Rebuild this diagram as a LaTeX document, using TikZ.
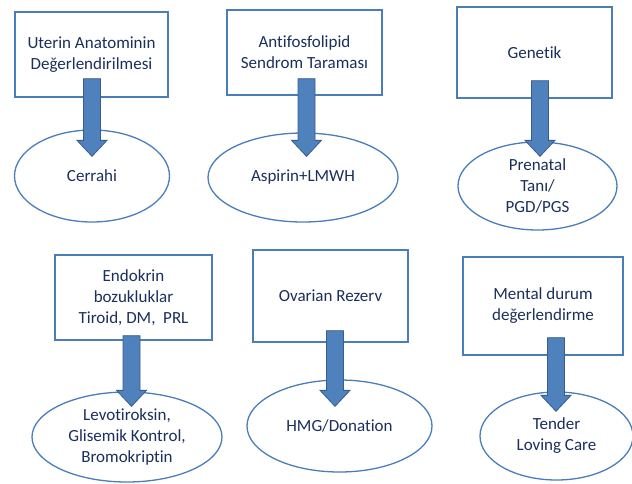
\documentclass[tikz,border=0pt]{standalone}
\usepackage{fontspec}
\setmainfont[Ligatures=NoCommon]{Carlito}
\usetikzlibrary{shapes.geometric,calc}

\definecolor{boxline}{HTML}{4A7EBB}
\definecolor{arrowfill}{HTML}{4F81BD}
\definecolor{arrowline}{HTML}{385D8A}
\definecolor{textblue}{HTML}{1B2F5C}

\tikzset{
    taskbox/.style={draw=boxline, line width=1.3pt, fill=white, align=center,
        text=textblue, inner sep=2pt, font=\fontsize{17}{21}\selectfont},
    remedy/.style={ellipse, draw=boxline, line width=1.3pt, fill=white, align=center,
        text=textblue, inner sep=0pt, font=\fontsize{17}{21}\selectfont},
    blockarrow/.style={draw=arrowline, fill=arrowfill, line width=0.8pt, line join=miter}
}

\newcommand\downblock[2]{%
    \draw[blockarrow] let \p1=(#1), \p2=(#2) in
        (\x2-8.5pt,\y1) -- (\x2+8.5pt,\y1) -- (\x2+8.5pt,\y2+16pt) -- (\x2+15pt,\y2+16pt)
        -- (\x2,\y2) -- (\x2-15pt,\y2+16pt) -- (\x2-8.5pt,\y2+16pt) -- cycle;}

\begin{document}
\begin{tikzpicture}[x=1pt, y=-1pt]
    \useasboundingbox (0,0) rectangle (632,483);

    % upper row
    \node[taskbox, minimum width=153pt, minimum height=85pt] (b1) at (91.5,54.5)
        {Uterin Anatominin\\Değerlendirilmesi};
    \node[taskbox, minimum width=155pt, minimum height=85pt] (b2) at (304.5,52.5)
        {Antifosfolipid\\Sendrom Taraması};
    \node[taskbox, minimum width=155pt, minimum height=91pt] (b3) at (534.5,52.5)
        {Genetik};
    \node[remedy, minimum width=155pt, minimum height=92pt] (e1) at (92,176) {Cerrahi};
    \node[remedy, minimum width=190pt, minimum height=89pt] (e2) at (303,177.5) {Aspirin+LMWH};
    \node[remedy, minimum width=159pt, minimum height=88pt] (e3) at (537.5,186)
        {Prenatal\\Tanı/\\PGD/PGS};

    % lower row
    \node[taskbox, minimum width=157pt, minimum height=85pt] (b4) at (133.5,297.5)
        {Endokrin\\bozukluklar\\Tiroid, DM,\ \ PRL};
    \node[taskbox, minimum width=155pt, minimum height=92pt] (b5) at (330.5,296)
        {Ovarian Rezerv};
    \node[taskbox, minimum width=160pt, minimum height=98pt] (b6) at (543,306)
        {Mental durum\\değerlendirme};
    \node[remedy, minimum width=190pt, minimum height=90pt] (e4) at (127,437)
        {Levotiroksin,\\Glisemik Kontrol,\\Bromokriptin};
    \node[remedy, minimum width=185pt, minimum height=92pt] (e5) at (339.5,426) {HMG/Donation};
    \node[remedy, minimum width=153pt, minimum height=88pt] (e6) at (556.5,436)
        {Tender\\Loving Care};

    % arrows
    \foreach \i/\sx/\sy/\tx/\ty in {1/0.5/-19/0/27, 2/2/-17/3.5/24, 3/5.5/-18/2.5/15,
            4/-2/-5/4.5/15, 5/4.5/-12/-4.5/27, 6/13/-18/-0.5/20} {
        \coordinate (s\i) at ($(b\i.south)+(\sx,\sy)$);
        \coordinate (t\i) at ($(e\i.north)+(\tx,\ty)$);
        \downblock{s\i}{t\i}
    }
\end{tikzpicture}
\end{document}
